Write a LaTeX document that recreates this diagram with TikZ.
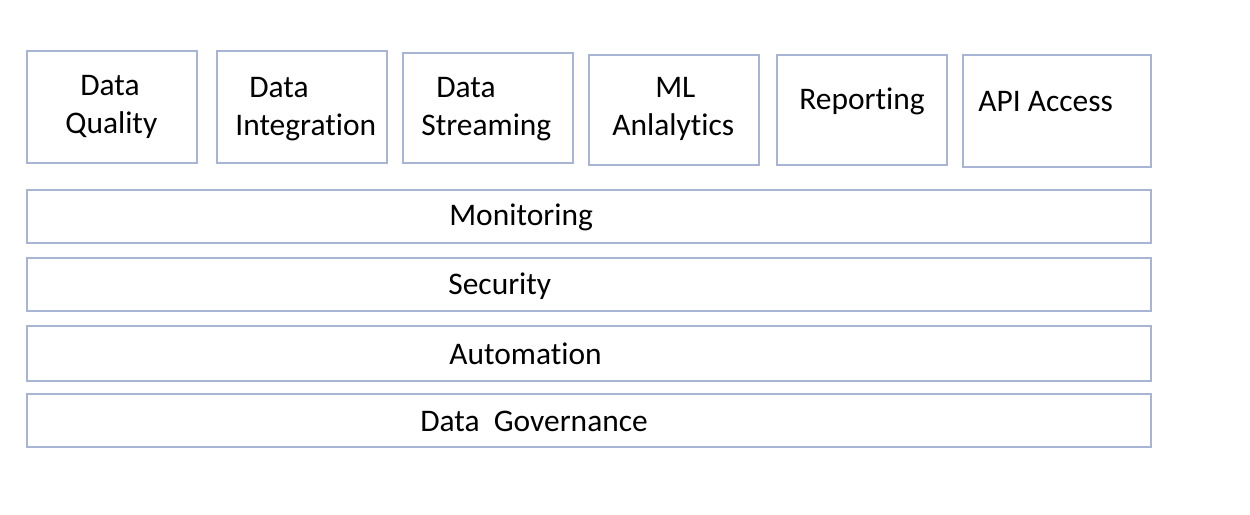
\documentclass[tikz,border=0pt]{standalone}
\usepackage{fontspec}
\setmainfont[Ligatures=NoCommon]{Carlito}
\usepackage{xcolor}
\usepackage{tikz}
\usetikzlibrary{positioning}
\definecolor{tileline}{HTML}{A8B4D4}
\tikzset{
    stack/.style={font=\fontsize{17.9}{21.5}\selectfont},
    stack box/.style={draw=tileline, line width=1pt, inner sep=0pt},
    stack label/.style={inner sep=0pt, align=left, anchor=west},
}

\begin{document}
\begin{tikzpicture}[
    stack, x=0.02cm, y=-0.02cm,
    tile/.style={stack box, minimum width=3.4cm, minimum height=2.2cm},
    layer/.style={stack box, minimum width=22.48cm, minimum height=1.06cm}
  ]
    \useasboundingbox (0,0) rectangle (1250,514);
    % top row of services
    \node[tile, minimum height=2.24cm] (quality) at (112,107) {};
    \node[tile, minimum height=2.24cm] (integration) at (302,107) {};
    \node[tile] (streaming) at (488,108) {};
    \node[tile] (mlana) at (674,110) {};
    \node[tile] (reporting) at (862,110) {};
    \node[tile, minimum width=3.76cm, minimum height=2.24cm] (api) at (1057,111) {};
    \node[stack label] (qualitytxt) at (65,107) {\hspace*{0.3cm}Data\\Quality};
    \node[stack label] (integrationtxt) at (235,109) {\hspace*{0.28cm}Data\\Integration};
    \node[stack label] (streamingtxt) at (421,109) {\hspace*{0.3cm}Data\\Streaming};
    \node[stack label] (mlanatxt) at (612,109) {\hspace*{0.86cm}ML\\Anlalytics};
    \node[stack label] (reportingtxt) at (799,101) {Reporting};
    \node[stack label] (apitxt) at (978,102) {API Access};

    % horizontal layers
    \node[layer] (monitoring) at (589,216.5) {};
    \node[layer] (security) at (589,284.5) {};
    \node[layer, minimum height=1.1cm] (automation) at (589,353.5) {};
    \node[layer] (governance) at (589,420.5) {};
    \node[stack label] (monitoringtxt) at (449,217) {Monitoring};
    \node[stack label] (securitytxt) at (448,286) {Security};
    \node[stack label] (automationtxt) at (449,354) {Automation};
    \node[stack label] (governancetxt) at (420,421) {Data\ \ Governance};
  \end{tikzpicture}
\end{document}
